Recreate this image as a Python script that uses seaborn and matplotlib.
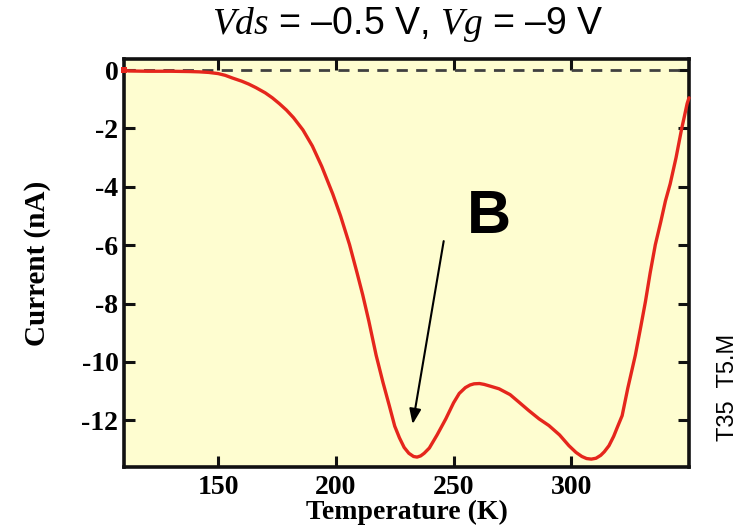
import matplotlib
matplotlib.use("Agg")
import matplotlib.pyplot as plt
import seaborn as sns
import pandas as pd

# ---- data ----
temperature = [110, 112, 120, 130, 138, 142, 146, 150, 153, 156, 160, 163, 166, 170,
               173, 176, 179, 182, 186, 190, 194, 198.7, 202, 205.8, 209, 211.4, 214,
               217.1, 220, 222.7, 225, 227, 229, 231, 233, 234.5, 236, 237.5, 239.7,
               243, 246.7, 250, 252.4, 255, 257, 258.7, 261, 263, 266, 269.3, 274,
               277.8, 282, 286.3, 290.5, 295, 299, 302, 304.5, 306.5, 308.5, 310.5,
               312.5, 314, 316, 318, 319.5, 321.6, 324, 327.2, 329.5, 331.5, 333.5,
               335.7, 338, 340, 342, 344.5, 346.9, 348, 349.2, 350]
current = [0.0, -0.03, -0.04, -0.04, -0.05, -0.06, -0.08, -0.12, -0.18, -0.27, -0.38,
           -0.48, -0.6, -0.78, -0.95, -1.15, -1.37, -1.63, -2.05, -2.6, -3.3, -4.25,
           -5.0, -5.98, -6.95, -7.7, -8.6, -9.77, -10.7, -11.5, -12.2, -12.6, -12.93,
           -13.13, -13.24, -13.26, -13.22, -13.13, -12.95, -12.5, -11.95, -11.4, -11.08,
           -10.88, -10.79, -10.75, -10.74, -10.77, -10.84, -10.92, -11.12, -11.38,
           -11.67, -11.95, -12.18, -12.5, -12.87, -13.1, -13.24, -13.31, -13.33, -13.3,
           -13.2, -13.08, -12.87, -12.55, -12.25, -11.84, -10.9, -9.77, -8.8, -7.93,
           -6.95, -5.98, -5.2, -4.48, -3.9, -3.0, -2.0, -1.6, -1.15, -0.95]
x_ticks = [150, 200, 250, 300]
y_ticks = [0, -2, -4, -6, -8, -10, -12]
title_text = r"$\mathit{Vds}$ = –0.5 V, $\mathit{Vg}$ = –9 V"
x_label = "Temperature (K)"
y_label = "Current (nA)"
peak_label = "B"
side_label = "T35  T5.M"

df = pd.DataFrame({"T": temperature, "I": current})

sns.set_style("ticks")
plt.rcParams["font.family"] = ["Liberation Sans", "DejaVu Sans"]
plt.rcParams["mathtext.fontset"] = "custom"
plt.rcParams["mathtext.it"] = "Liberation Serif:italic"
plt.rcParams["mathtext.rm"] = "Liberation Sans"
plt.rcParams["text.color"] = "black"
plt.rcParams["axes.labelcolor"] = "black"
plt.rcParams["xtick.color"] = "black"
plt.rcParams["ytick.color"] = "black"

fig = plt.figure(figsize=(7.4, 5.31), dpi=100)
ax = fig.add_axes([124 / 740, 1 - 467 / 531, (689 - 124) / 740, (467 - 59) / 531])
ax.set_facecolor("#fefdd0")

ax.axhline(0, color="#404040", lw=2.0, ls=(0, (4, 3)), zorder=1)
sns.lineplot(data=df, x="T", y="I", ax=ax, color="#e5261c", lw=2.4,
             marker="s", markersize=5, markevery=[0], markeredgewidth=0,
             zorder=3, clip_on=False)

ax.set_xlim(110, 350)
ax.set_ylim(-13.6, 0.38)
ax.set_xticks(x_ticks)
ax.set_yticks(y_ticks)
ax.set_xticklabels([str(v) for v in x_ticks])
ax.set_yticklabels([str(v) for v in y_ticks])

serif = ["Liberation Serif", "DejaVu Serif"]
for lab in ax.get_xticklabels() + ax.get_yticklabels():
    lab.set_fontfamily(serif)
    lab.set_fontweight("bold")
    lab.set_fontsize(20)
    lab.set_color("black")

ax.tick_params(direction="in", length=8, width=2.2, top=True, right=True,
               color="#111111")
ax.tick_params(axis="x", pad=6)
ax.tick_params(axis="y", pad=4)
for sp in ax.spines.values():
    sp.set_linewidth(2.6)
    sp.set_color("#111111")

ax.set_xlabel(x_label, family=serif, weight="bold", size=20, color="black",
              labelpad=0)
ax.set_ylabel(y_label, family=serif, weight="bold", size=21, color="black",
              labelpad=22)

fig.text(408 / 740, 1 - 25 / 531, title_text, ha="center", va="center",
         fontsize=27, color="black")

ax.text(265, -5.05, peak_label, fontsize=44, fontweight="bold", ha="center",
        va="center", family=["Liberation Sans"], color="black")
ax.annotate("", xy=(232.6, -12.13), xytext=(245.8, -5.86),
            arrowprops=dict(arrowstyle="-|>,head_length=0.9,head_width=0.35",
                            color="black", lw=1.5, shrinkA=0, shrinkB=0))

fig.text(728 / 740, 1 - 387 / 531, side_label, rotation=90, ha="center",
         va="center", fontsize=17, color="black")

fig.savefig("out.png", dpi=100)
